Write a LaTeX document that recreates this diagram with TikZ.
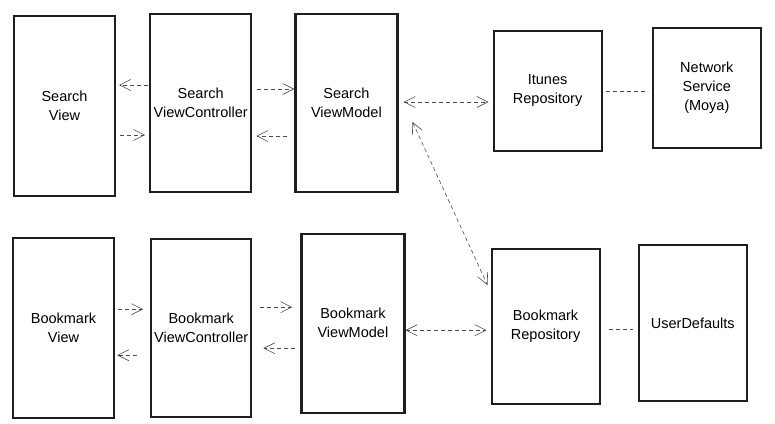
\documentclass[tikz,border=0pt]{standalone}
\usepackage{fontspec}
\setmainfont{Liberation Sans}
\usepackage{tikz}
\usetikzlibrary{arrows.meta,positioning}

\begin{document}
\begin{tikzpicture}[x=1pt, y=-1pt,
  font=\fontsize{14.5}{19}\selectfont,
  caixa/.style={draw=black!88, line width=2.2pt, align=center, inner sep=1pt, fill=white},
  seta/.style={-{Straight Barb[length=11pt,width=11pt]}, line width=0.6pt, draw=black!70,
               dash pattern=on 4pt off 3pt, shorten <=5pt, shorten >=4pt},
  liga/.style={line width=0.6pt, draw=black!70, dash pattern=on 4pt off 3pt,
               shorten <=4pt, shorten >=4pt}]
\useasboundingbox (0,0) rectangle (775,423);
% search row
\node[caixa, minimum width=101pt, minimum height=180pt] (sv) at (64.5,106) {Search\\View};
\node[caixa, minimum width=101pt, minimum height=178pt, right=33pt of sv, yshift=3pt] (svc) {Search\\ViewController};
\node[caixa, minimum width=102pt, minimum height=178pt, right=42pt of svc] (svm) {Search\\ViewModel};
\node[caixa, minimum width=108pt, minimum height=120pt, right=94pt of svm, yshift=12pt] (itu) {Itunes\\Repository};
\node[caixa, minimum width=108pt, minimum height=120pt, right=49pt of itu, yshift=3pt] (net) {Network\\Service\\(Moya)};
% bookmark row
\node[caixa, minimum width=101pt, minimum height=180pt, below=40pt of sv, xshift=-1pt] (bv) {Bookmark\\View};
\node[caixa, minimum width=100pt, minimum height=178pt, right=35pt of bv] (bvc) {Bookmark\\ViewController};
\node[caixa, minimum width=103pt, minimum height=179pt, right=48pt of bvc, yshift=5pt] (bvm) {Bookmark\\ViewModel};
\node[caixa, minimum width=108pt, minimum height=155pt, right=85pt of bvm, yshift=-3.5pt] (br) {Bookmark\\Repository};
\node[caixa, minimum width=108pt, minimum height=156pt, right=37pt of br, yshift=3.5pt] (ud) {UserDefaults};

\draw[seta, shorten <=1pt, shorten >=3pt] ([yshift=18pt]svc.west) coordinate (a) -- (sv.east |- a);
\draw[seta, shorten <=4pt] ([yshift=-29pt]sv.east) coordinate (a) -- (svc.west |- a);
\draw[seta, shorten >=0pt] ([yshift=14pt]svc.east) coordinate (a) -- (svm.west |- a);
\draw[seta, shorten <=7pt] ([yshift=-33pt]svm.west) coordinate (a) -- (svc.east |- a);
\draw[seta, {Straight Barb[length=11pt,width=11pt]}-{Straight Barb[length=11pt,width=11pt]}]
  ([yshift=1pt]svm.east) coordinate (a) -- (itu.west |- a);
\draw[liga, shorten <=3pt] (itu.east) -- (net.west |- itu.east);
\draw[seta, {Straight Barb[length=11pt,width=11pt]}-{Straight Barb[length=11pt,width=11pt]}, shorten <=0pt, shorten >=0pt]
  ([shift={(14pt,-19pt)}]svm.east) -- ([shift={(-3pt,-37pt)}]br.north west);
\draw[seta, {Straight Barb[length=11pt,width=11pt]}-{Straight Barb[length=11pt,width=11pt]}, shorten <=0pt]
  ([yshift=-7pt]bvm.east) coordinate (a) -- (br.west |- a);
\draw[liga, shorten <=8pt, shorten >=5pt] ([yshift=-2.5pt]br.east) coordinate (a) -- (ud.west |- a);
\draw[seta, shorten <=3pt, shorten >=7pt] ([yshift=19pt]bv.east) coordinate (a) -- (bvc.west |- a);
\draw[seta, shorten <=13pt, shorten >=2pt] ([yshift=-27pt]bvc.west) coordinate (a) -- (bv.east |- a);
\draw[seta, shorten <=8pt, shorten >=8pt] ([yshift=21pt]bvc.east) coordinate (a) -- (bvm.west |- a);
\draw[seta, shorten >=11pt] ([yshift=-25pt]bvm.west) coordinate (a) -- (bvc.east |- a);
\end{tikzpicture}
\end{document}
